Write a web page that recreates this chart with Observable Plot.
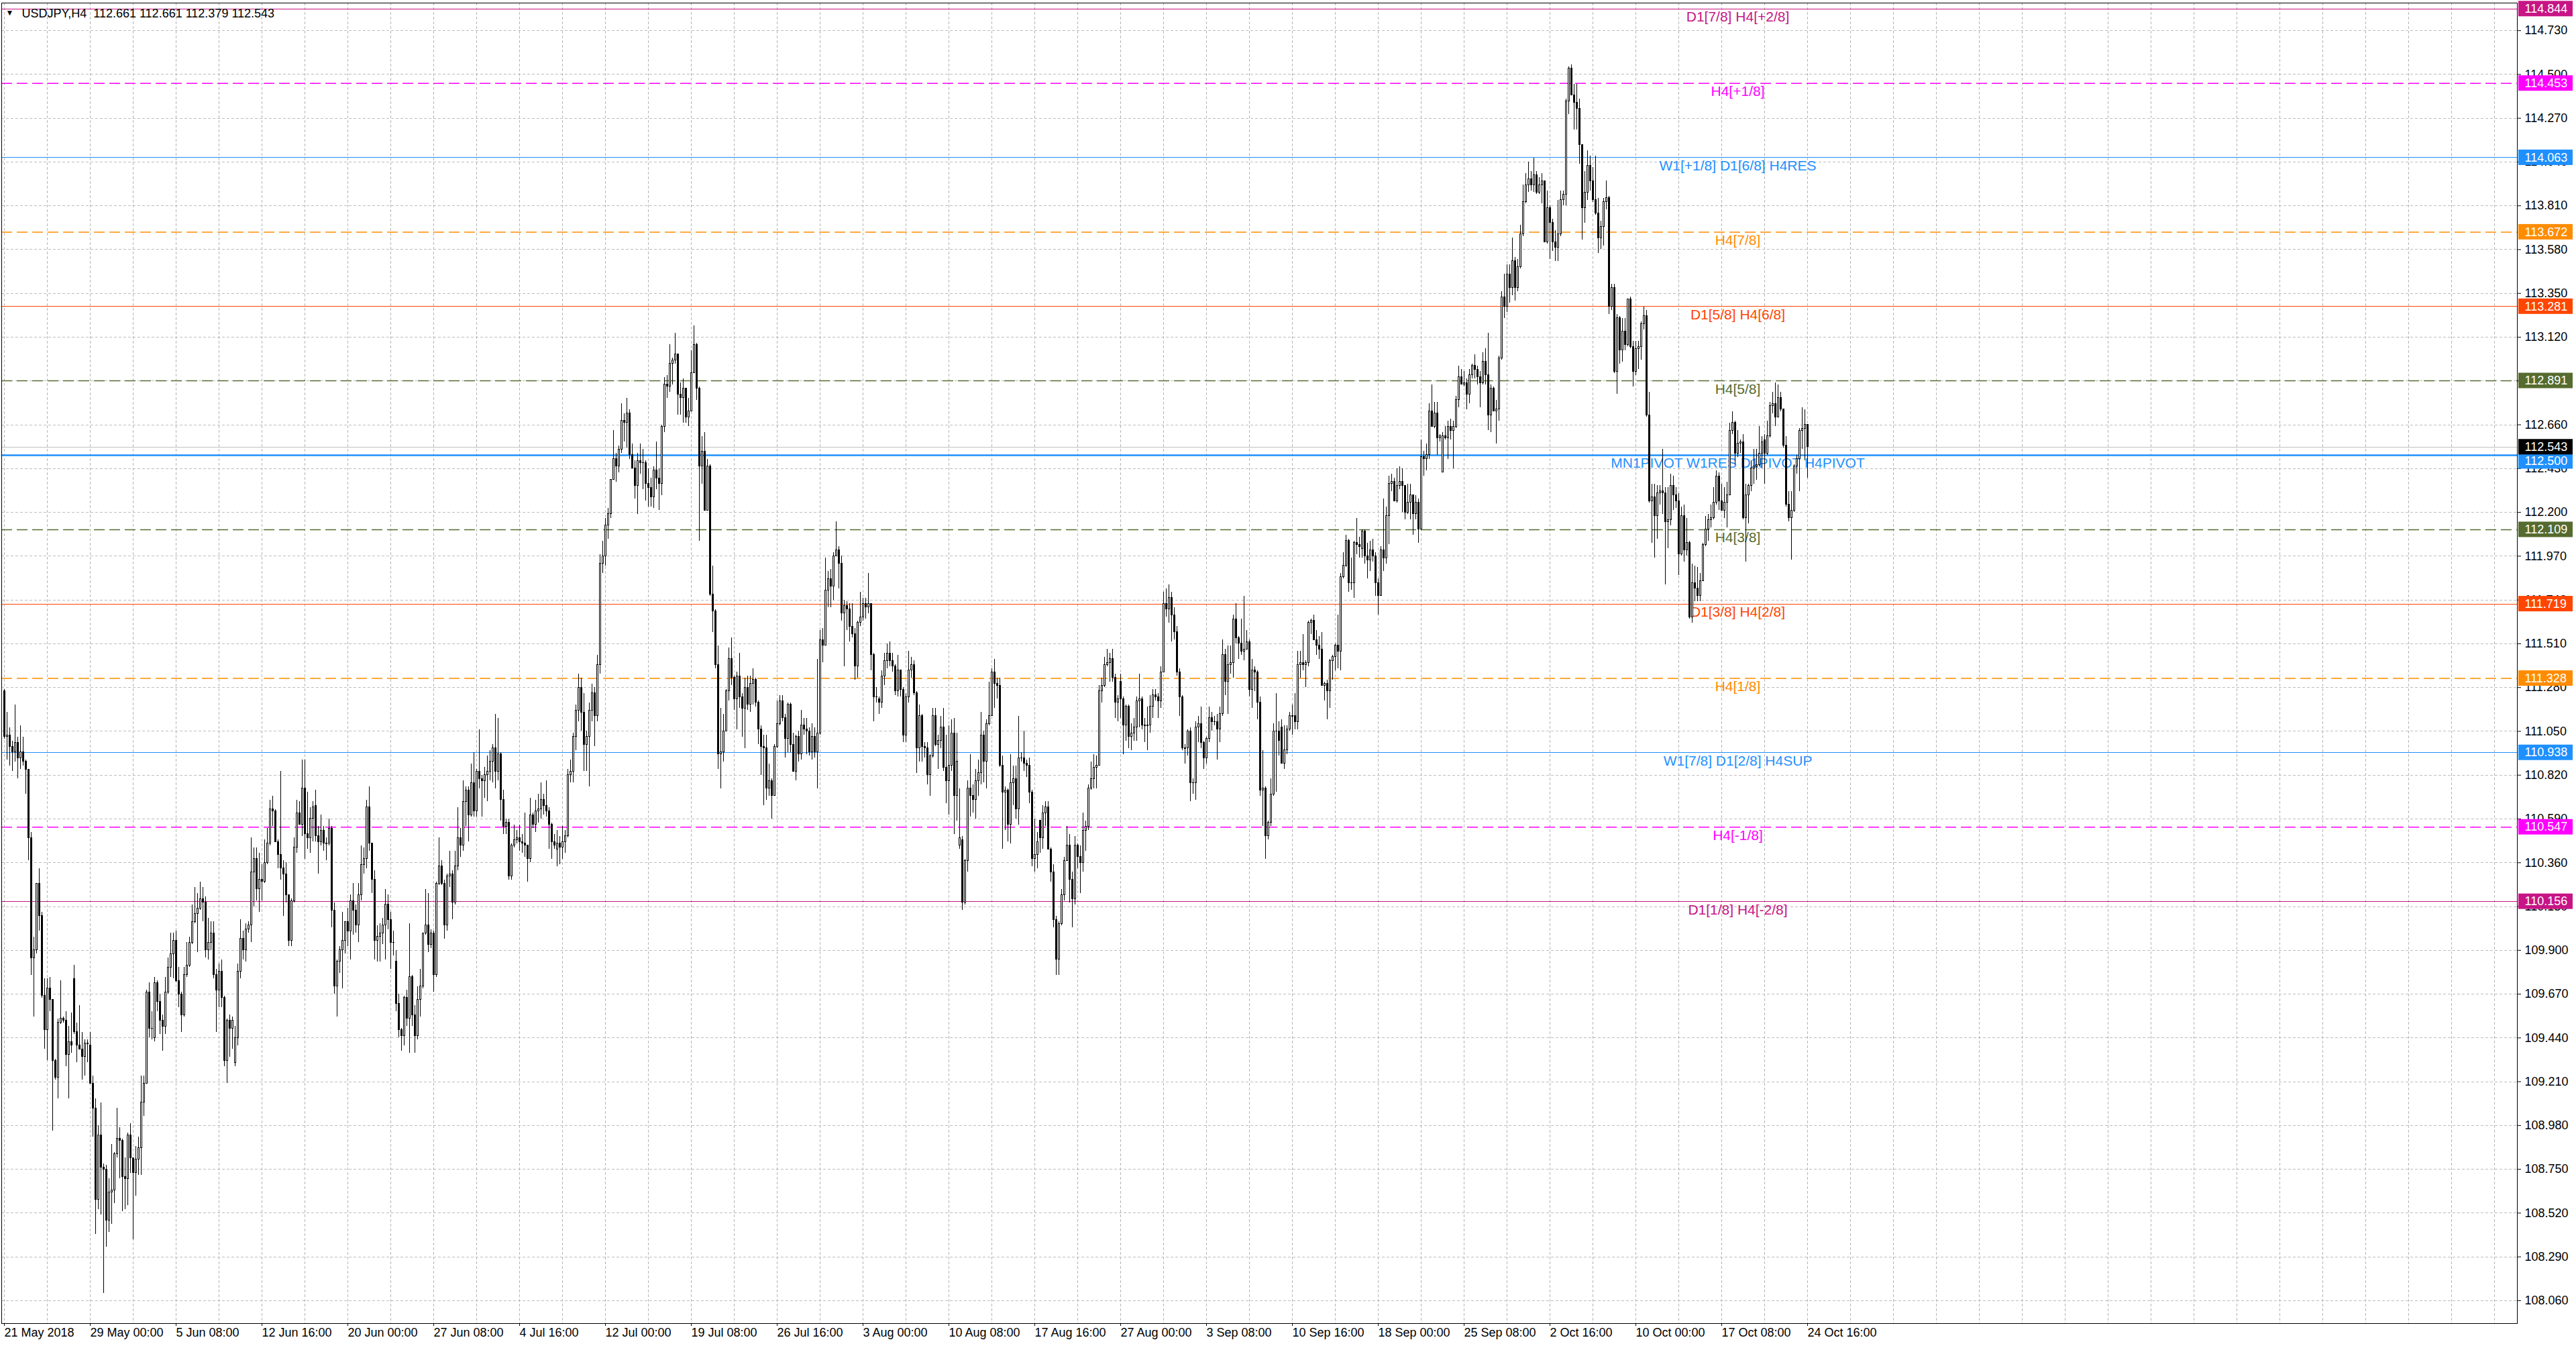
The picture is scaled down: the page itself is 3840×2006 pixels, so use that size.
<!DOCTYPE html>
<html><head><meta charset="utf-8">
<script src="https://cdn.jsdelivr.net/npm/d3@7"></script>
<script src="https://cdn.jsdelivr.net/npm/@observablehq/plot@0.6"></script>
<style>html,body{margin:0;padding:0;background:#fff;}#chart{width:3840px;height:2006px;overflow:hidden;background:#fff}</style>
</head><body><div id="chart"></div>
<script>
const header = "USDJPY,H4  112.661 112.661 112.379 112.543";
const open = [
111.26,111.02,111.03,110.97,110.94,110.99,110.91,110.94,110.89,110.85,
110.49,109.86,109.90,110.25,110.08,109.66,109.48,109.70,109.64,109.32,
109.23,109.52,109.54,109.53,109.35,109.42,109.75,109.47,109.40,109.38,
109.34,109.41,109.40,109.20,109.07,108.59,108.93,108.76,108.75,108.48,
108.63,108.64,108.83,108.91,108.90,108.71,108.70,108.93,108.81,108.73,
108.80,108.86,109.10,109.20,109.68,109.49,109.44,109.73,109.63,109.53,
109.50,109.68,109.81,109.88,109.95,109.74,109.67,109.56,109.77,109.82,
109.94,110.05,110.09,110.12,110.17,110.15,109.90,109.94,109.99,109.77,
109.69,109.79,109.65,109.32,109.53,109.49,109.31,109.44,109.79,109.96,
109.90,110.01,110.03,110.31,110.38,110.22,110.27,110.26,110.36,110.46,
110.64,110.63,110.47,110.40,110.33,110.30,110.19,109.95,110.16,110.44,
110.62,110.56,110.75,110.51,110.49,110.59,110.66,110.50,110.47,110.53,
110.46,110.46,110.54,110.11,109.71,109.84,109.90,109.95,110.05,110.00,
110.16,110.11,110.03,110.19,110.35,110.38,110.65,110.46,110.27,109.95,
109.97,109.99,110.03,110.14,110.06,109.94,109.84,109.62,109.48,109.45,
109.65,109.54,109.76,109.56,109.45,109.64,109.71,109.99,110.03,109.93,
109.99,109.77,110.25,110.34,110.25,110.03,110.29,110.30,110.15,110.34,
110.49,110.45,110.68,110.74,110.61,110.78,110.63,110.84,110.80,110.79,
110.82,110.84,110.89,110.96,110.84,110.93,110.69,110.55,110.57,110.29,
110.45,110.48,110.49,110.47,110.46,110.45,110.38,110.61,110.56,110.63,
110.64,110.69,110.66,110.63,110.56,110.47,110.43,110.46,110.44,110.47,
110.50,110.82,110.84,111.02,111.16,111.28,111.15,110.98,111.02,111.16,
111.25,111.13,111.40,111.93,111.97,112.13,112.19,112.37,112.48,112.44,
112.53,112.68,112.67,112.72,112.50,112.43,112.34,112.47,112.46,112.46,
112.35,112.33,112.28,112.42,112.38,112.35,112.65,112.87,112.86,112.98,
113.00,113.03,112.82,112.80,112.85,112.70,112.73,112.93,113.08,112.85,
112.44,112.52,112.21,112.44,111.77,111.68,111.40,110.93,110.94,111.05,
111.26,111.43,111.33,111.22,111.34,111.23,111.17,111.28,111.19,111.30,
111.32,111.20,111.06,110.97,110.96,110.75,110.79,110.71,110.97,111.09,
111.21,111.12,111.01,111.19,110.98,110.84,111.02,110.93,111.08,111.06,
111.05,110.94,111.02,110.94,111.04,111.53,111.50,111.79,111.85,111.81,
111.97,112.00,111.93,111.67,111.71,111.69,111.60,111.56,111.39,111.62,
111.65,111.72,111.70,111.72,111.45,111.23,111.22,111.20,111.34,111.42,
111.46,111.42,111.39,111.26,111.37,111.27,111.03,111.23,111.37,111.40,
111.25,110.96,111.13,110.97,110.96,110.82,110.92,111.13,110.98,111.00,
111.07,110.86,110.79,110.87,111.04,110.71,110.45,110.48,110.15,110.37,
110.75,110.71,110.69,110.79,110.83,111.03,110.89,111.09,111.13,111.36,
111.30,111.29,110.87,110.73,110.74,110.56,110.78,110.80,110.64,110.91,
110.91,110.88,110.87,110.73,110.38,110.40,110.58,110.49,110.62,110.65,
110.43,110.31,110.06,109.85,110.04,110.19,110.37,110.45,110.27,110.17,
110.45,110.39,110.36,110.53,110.55,110.75,110.80,110.86,110.87,111.26,
111.29,111.40,111.41,111.43,111.33,111.20,111.31,111.22,111.08,111.18,
111.02,111.04,111.07,111.21,111.22,111.08,111.08,111.08,111.18,111.24,
111.23,111.21,111.36,111.72,111.69,111.75,111.66,111.57,111.36,111.23,
110.96,110.96,111.05,110.78,110.78,111.07,111.09,110.99,110.91,111.01,
111.12,111.10,111.10,111.06,111.14,111.45,111.31,111.40,111.41,111.64,
111.54,111.51,111.47,111.48,111.52,111.27,111.37,111.36,111.20,110.74,
110.75,110.50,110.57,110.72,111.05,111.05,111.07,110.88,110.95,111.06,
111.13,111.13,111.10,111.40,111.41,111.40,111.41,111.62,111.63,111.53,
111.50,111.48,111.29,111.30,111.26,111.42,111.44,111.50,111.47,111.86,
111.92,112.05,111.83,111.83,112.04,112.03,112.01,112.10,111.97,111.95,
112.00,111.97,111.83,111.76,112.00,111.96,112.18,112.35,112.36,112.26,
112.34,112.36,112.34,112.20,112.25,112.29,112.19,112.25,112.11,112.49,
112.48,112.50,112.73,112.65,112.72,112.59,112.41,112.60,112.59,112.65,
112.63,112.65,112.79,112.91,112.87,112.88,112.82,112.92,112.97,112.95,
112.91,112.88,112.99,112.92,112.71,112.85,112.73,112.74,113.01,113.33,
113.28,113.45,113.38,113.52,113.38,113.49,113.66,113.83,113.92,113.95,
113.92,113.97,113.88,113.92,113.94,113.62,113.80,113.72,113.62,113.59,
113.66,113.84,113.87,114.36,114.53,114.39,114.35,114.32,114.13,113.80,
113.88,114.02,113.94,113.84,113.77,113.64,113.70,113.83,113.85,113.28,
113.38,112.94,113.22,113.05,113.15,113.08,113.32,113.07,112.94,113.06,
113.07,113.19,113.23,112.71,112.26,112.28,112.18,112.30,112.31,112.30,
112.15,112.16,112.34,112.29,112.26,111.98,112.18,112.00,112.04,111.65,
111.83,111.80,111.76,111.84,112.03,112.11,112.16,112.17,112.25,112.39,
112.26,112.21,112.25,112.29,112.63,112.67,112.51,112.56,112.57,112.17,
112.29,112.34,112.43,112.44,112.45,112.51,112.58,112.51,112.60,112.76,
112.77,112.70,112.80,112.74,112.55,112.24,112.17,112.21,112.44,112.48,
112.63,112.64,112.661];
const high = [
111.27,111.15,111.07,111.00,111.19,111.02,111.08,111.02,110.90,110.85,
110.52,109.97,110.25,110.33,110.10,109.75,109.75,109.76,109.64,109.33,
109.54,109.74,109.55,109.58,109.50,109.57,109.82,109.52,109.61,109.47,
109.43,109.43,109.47,109.24,109.12,108.98,109.10,108.78,108.77,108.70,
108.88,108.84,109.07,108.97,108.91,108.81,108.94,108.99,108.81,108.87,
108.92,109.24,109.24,109.69,109.73,109.58,109.76,109.74,109.67,109.56,
109.76,109.86,109.99,109.99,110.00,109.81,109.68,109.81,109.94,109.97,
110.14,110.23,110.20,110.26,110.23,110.18,110.07,110.05,110.05,109.80,
109.83,109.85,109.66,109.54,109.56,109.55,109.50,109.83,110.06,110.00,
110.04,110.05,110.49,110.44,110.44,110.41,110.35,110.48,110.54,110.69,
110.71,110.64,110.48,110.84,110.37,110.36,110.19,110.17,110.49,110.69,
110.68,110.90,110.90,110.73,110.65,110.68,110.74,110.55,110.61,110.55,
110.49,110.59,110.55,110.15,109.85,109.92,110.10,110.05,110.12,110.19,
110.25,110.14,110.25,110.45,110.44,110.69,110.76,110.46,110.32,110.03,
110.04,110.07,110.22,110.19,110.10,110.00,109.90,109.67,109.49,109.66,
109.69,110.04,109.77,109.61,109.71,109.80,109.99,110.22,110.20,110.01,
110.00,110.26,110.49,110.37,110.27,110.30,110.42,110.32,110.42,110.65,
110.54,110.79,110.76,110.76,110.88,110.94,110.85,111.06,110.82,110.86,
110.92,110.95,110.98,111.14,111.12,110.94,110.74,110.59,110.59,110.46,
110.56,110.53,110.56,110.51,110.62,110.45,110.70,110.62,110.69,110.72,
110.78,110.72,110.79,110.65,110.57,110.51,110.53,110.50,110.55,110.53,
110.85,110.90,111.04,111.19,111.35,111.33,111.25,111.05,111.20,111.30,
111.28,111.45,111.98,112.05,112.17,112.22,112.37,112.63,112.51,112.55,
112.77,112.72,112.80,112.74,112.56,112.47,112.51,112.56,112.53,112.47,
112.43,112.38,112.44,112.57,112.43,112.66,112.91,112.92,113.08,113.01,
113.14,113.03,112.88,112.90,112.85,112.80,113.05,113.18,113.09,112.86,
112.60,112.62,112.48,112.45,111.92,111.69,111.50,111.17,111.14,111.27,
111.49,111.54,111.34,111.36,111.46,111.25,111.33,111.34,111.34,111.38,
111.33,111.21,111.08,111.03,111.03,110.88,110.80,110.98,111.21,111.24,
111.24,111.14,111.20,111.20,111.04,111.03,111.05,111.16,111.12,111.12,
111.07,111.09,111.07,111.43,111.58,111.59,111.96,111.89,111.90,111.99,
112.15,112.02,111.97,111.74,111.73,111.72,111.72,111.59,111.63,111.78,
111.75,111.75,111.88,111.72,111.46,111.28,111.23,111.37,111.46,111.51,
111.52,111.46,111.40,111.45,111.37,111.28,111.25,111.47,111.44,111.42,
111.26,111.19,111.14,110.99,110.99,110.93,111.17,111.17,111.03,111.13,
111.17,111.03,111.08,111.11,111.12,111.04,110.75,110.50,110.38,110.79,
110.93,110.77,110.85,110.90,111.15,111.05,111.11,111.31,111.38,111.43,
111.33,111.33,110.92,110.76,110.75,110.93,110.87,110.87,111.13,110.94,
111.05,110.90,110.91,110.74,110.59,110.52,110.58,110.66,110.68,110.68,
110.44,110.35,110.08,110.05,110.22,110.39,110.55,110.51,110.31,110.50,
110.46,110.45,110.62,110.58,110.77,110.89,110.93,110.92,111.29,111.33,
111.44,111.48,111.46,111.48,111.35,111.24,111.35,111.23,111.19,111.19,
111.09,111.12,111.23,111.35,111.23,111.12,111.18,111.24,111.27,111.27,
111.25,111.39,111.78,111.80,111.82,111.78,111.70,111.60,111.38,111.24,
110.98,111.06,111.07,110.80,111.10,111.13,111.18,111.00,111.02,111.18,
111.15,111.13,111.14,111.18,111.53,111.48,111.50,111.50,111.66,111.72,
111.55,111.64,111.76,111.58,111.53,111.43,111.39,111.37,111.23,110.95,
110.76,110.58,110.80,111.09,111.25,111.10,111.11,111.08,111.08,111.15,
111.19,111.25,111.47,111.47,111.56,111.42,111.63,111.64,111.66,111.58,
111.55,111.57,111.31,111.32,111.43,111.45,111.51,111.66,111.88,111.99,
112.08,112.06,111.96,112.05,112.17,112.07,112.11,112.11,112.04,112.05,
112.06,111.99,111.85,112.02,112.27,112.23,112.39,112.40,112.38,112.43,
112.44,112.43,112.34,112.35,112.35,112.29,112.29,112.27,112.58,112.52,
112.56,112.77,112.87,112.78,112.78,112.61,112.62,112.65,112.68,112.69,
112.68,112.81,112.97,112.95,112.94,112.90,112.95,112.98,113.03,112.97,
112.94,113.04,113.06,113.14,112.87,112.86,112.79,113.02,113.36,113.45,
113.50,113.50,113.64,113.54,113.53,113.71,113.92,113.98,114.04,113.99,
114.06,113.99,113.96,113.98,113.94,113.89,113.81,113.74,113.68,113.84,
113.89,113.89,114.37,114.54,114.55,114.45,114.45,114.37,114.13,113.99,
114.10,114.07,114.01,114.07,113.85,113.73,113.85,113.94,113.86,113.40,
113.40,113.24,113.23,113.22,113.22,113.32,113.33,113.10,113.10,113.10,
113.20,113.28,113.26,112.83,112.35,112.35,112.34,112.34,112.53,112.33,
112.33,112.40,112.39,112.33,112.30,112.23,112.24,112.17,112.05,111.93,
111.92,111.91,111.88,112.04,112.18,112.19,112.24,112.33,112.42,112.41,
112.35,112.33,112.36,112.67,112.73,112.68,112.63,112.58,112.61,112.35,
112.35,112.47,112.53,112.53,112.65,112.60,112.61,112.68,112.78,112.83,
112.88,112.87,112.83,112.74,112.60,112.31,112.31,112.45,112.50,112.64,
112.75,112.74,112.661];
const low = [
111.01,110.90,110.87,110.84,110.89,110.80,110.85,110.87,110.72,110.37,
109.77,109.55,109.88,110.00,109.65,109.38,109.32,109.58,108.95,109.22,
109.12,109.51,109.52,109.29,109.12,109.36,109.46,109.31,109.38,109.22,
109.24,109.31,109.20,108.92,108.41,108.54,108.51,108.10,108.34,108.42,
108.46,108.57,108.81,108.70,108.53,108.54,108.56,108.73,108.38,108.61,
108.72,108.72,109.03,109.20,109.44,109.43,109.42,109.58,109.46,109.37,
109.46,109.67,109.76,109.75,109.73,109.60,109.47,109.55,109.76,109.81,
109.93,110.04,109.89,110.11,110.05,109.86,109.85,109.90,109.75,109.47,
109.60,109.60,109.29,109.20,109.34,109.38,109.29,109.40,109.75,109.85,
109.84,109.99,109.94,110.13,110.16,110.10,110.16,110.25,110.35,110.45,
110.55,110.47,110.33,110.27,110.08,110.15,109.92,109.92,110.15,110.41,
110.56,110.50,110.38,110.43,110.41,110.47,110.47,110.30,110.45,110.42,
110.37,110.45,110.02,109.67,109.55,109.78,109.70,109.88,109.92,109.85,
109.98,109.99,109.94,110.16,110.30,110.33,110.42,110.20,109.85,109.84,
109.84,109.93,109.85,110.01,109.80,109.87,109.58,109.44,109.37,109.40,
109.50,109.36,109.50,109.36,109.43,109.55,109.70,109.98,109.89,109.91,
109.68,109.76,110.24,110.24,109.96,110.00,110.23,110.06,110.14,110.32,
110.39,110.42,110.55,110.47,110.60,110.60,110.60,110.75,110.60,110.70,
110.68,110.79,110.78,110.75,110.79,110.58,110.51,110.51,110.27,110.27,
110.44,110.46,110.42,110.41,110.39,110.26,110.36,110.54,110.52,110.57,
110.59,110.61,110.60,110.43,110.38,110.43,110.34,110.35,110.38,110.41,
110.49,110.78,110.78,110.95,111.10,111.05,110.84,110.84,110.76,111.10,
110.97,111.10,111.35,111.88,111.92,112.06,112.17,112.37,112.36,112.41,
112.51,112.57,112.54,112.48,112.43,112.27,112.19,112.40,112.32,112.26,
112.23,112.23,112.22,112.32,112.21,112.29,112.62,112.80,112.83,112.87,
112.98,112.71,112.71,112.67,112.67,112.65,112.73,112.93,112.79,112.05,
112.35,112.21,112.21,111.76,111.57,111.38,110.85,110.75,110.89,111.05,
111.21,111.29,111.16,111.06,111.17,111.02,110.96,111.16,111.15,111.19,
111.18,110.98,110.82,110.66,110.69,110.71,110.59,110.71,110.96,111.08,
111.10,110.91,110.94,110.94,110.84,110.79,110.89,110.90,111.03,110.93,
110.92,110.90,110.91,110.75,111.03,111.41,111.50,111.70,111.70,111.74,
111.97,111.80,111.63,111.39,111.58,111.52,111.54,111.32,111.33,111.60,
111.63,111.64,111.67,111.37,111.10,111.20,111.14,111.17,111.29,111.38,
111.39,111.36,111.24,111.23,111.23,110.99,110.99,111.20,111.33,111.24,
110.83,110.89,110.89,110.91,110.77,110.71,110.91,110.97,110.85,110.96,
110.84,110.67,110.61,110.84,110.51,110.58,110.43,110.11,110.14,110.31,
110.60,110.62,110.59,110.71,110.77,110.78,110.75,111.08,111.13,111.17,
111.22,110.86,110.43,110.53,110.47,110.46,110.66,110.59,110.56,110.89,
110.84,110.81,110.67,110.34,110.31,110.33,110.41,110.43,110.55,110.43,
110.26,110.02,109.77,109.77,110.03,110.16,110.37,110.15,110.02,110.14,
110.33,110.20,110.31,110.42,110.53,110.74,110.75,110.75,110.87,111.20,
111.28,111.39,111.31,111.31,111.12,111.10,111.12,110.93,111.00,110.96,
110.95,111.00,111.00,111.07,111.06,110.99,110.95,111.04,111.12,111.21,
111.12,111.17,111.36,111.65,111.62,111.52,111.53,111.34,111.13,110.95,
110.88,110.92,110.68,110.72,110.69,110.99,110.96,110.85,110.88,110.99,
111.05,111.08,110.90,110.99,111.13,111.24,111.14,111.35,111.33,111.51,
111.43,111.45,111.42,111.48,111.23,111.17,111.26,111.11,110.71,110.55,
110.38,110.48,110.55,110.71,110.73,110.92,110.88,110.85,110.93,111.05,
111.03,111.06,111.06,111.33,111.37,111.28,111.39,111.56,111.53,111.45,
111.43,111.29,111.21,111.11,111.17,111.32,111.37,111.38,111.37,111.85,
111.91,111.78,111.79,111.75,111.98,111.96,111.96,111.93,111.85,111.89,
111.94,111.76,111.66,111.76,111.89,111.93,112.03,112.31,112.26,112.25,
112.32,112.20,112.16,112.19,112.16,112.08,112.16,112.04,112.11,112.39,
112.42,112.48,112.65,112.64,112.50,112.57,112.41,112.58,112.48,112.58,
112.43,112.64,112.75,112.87,112.86,112.74,112.77,112.90,112.90,112.87,
112.75,112.87,112.87,112.63,112.62,112.73,112.56,112.68,113.00,113.22,
113.25,113.30,113.34,113.31,113.36,113.48,113.65,113.82,113.88,113.89,
113.88,113.87,113.87,113.82,113.62,113.61,113.53,113.57,113.52,113.52,
113.65,113.81,113.81,114.29,114.39,114.21,114.21,114.03,113.63,113.72,
113.84,113.89,113.83,113.76,113.56,113.58,113.60,113.79,113.24,113.26,
112.93,112.82,112.98,112.99,113.05,113.07,113.06,112.86,112.92,112.95,
113.00,113.16,112.70,112.25,112.04,111.96,112.06,112.24,112.19,111.82,
112.01,112.13,112.21,112.22,111.87,111.97,111.94,111.97,111.64,111.62,
111.73,111.73,111.73,111.84,112.02,112.05,112.12,112.16,112.24,112.21,
112.21,112.17,112.12,112.29,112.61,112.45,112.49,112.51,112.16,111.94,
112.14,112.31,112.35,112.37,112.44,112.43,112.35,112.50,112.59,112.72,
112.65,112.70,112.73,112.54,112.23,112.15,111.95,112.20,112.40,112.31,
112.53,112.47,112.379];
const close = [
111.02,111.03,110.97,110.94,110.99,110.91,110.94,110.89,110.85,110.49,
109.86,109.90,110.25,110.08,109.66,109.48,109.70,109.64,109.32,109.23,
109.52,109.54,109.53,109.35,109.42,109.40,109.47,109.40,109.38,109.34,
109.41,109.41,109.20,109.07,108.59,108.93,108.76,108.75,108.48,108.63,
108.64,108.83,108.91,108.90,108.71,108.70,108.93,108.81,108.73,108.80,
108.86,109.10,109.20,109.68,109.49,109.49,109.73,109.63,109.53,109.50,
109.68,109.81,109.88,109.95,109.74,109.67,109.56,109.77,109.82,109.94,
110.05,110.09,110.12,110.17,110.15,109.90,109.94,109.99,109.77,109.69,
109.79,109.65,109.32,109.53,109.49,109.53,109.44,109.79,109.96,109.90,
110.01,110.03,110.31,110.38,110.22,110.27,110.26,110.36,110.46,110.64,
110.63,110.47,110.40,110.33,110.30,110.19,109.95,110.16,110.44,110.62,
110.56,110.75,110.51,110.49,110.59,110.65,110.50,110.47,110.53,110.46,
110.46,110.54,110.11,109.71,109.84,109.90,109.95,110.05,110.00,110.16,
110.11,110.03,110.19,110.35,110.38,110.65,110.46,110.27,109.95,109.97,
109.99,110.03,110.14,110.06,109.94,109.94,109.62,109.48,109.45,109.65,
109.54,109.76,109.56,109.45,109.64,109.71,109.99,110.03,109.93,109.99,
109.77,110.25,110.34,110.25,110.03,110.29,110.30,110.15,110.34,110.49,
110.45,110.68,110.74,110.61,110.78,110.63,110.84,110.80,110.79,110.82,
110.84,110.89,110.96,110.84,110.93,110.69,110.55,110.57,110.29,110.45,
110.48,110.49,110.47,110.46,110.45,110.38,110.61,110.56,110.63,110.64,
110.69,110.66,110.63,110.56,110.47,110.45,110.46,110.44,110.47,110.50,
110.82,110.84,111.02,111.16,111.28,111.15,110.98,111.02,111.16,111.25,
111.13,111.40,111.93,111.97,112.13,112.19,112.37,112.48,112.44,112.53,
112.68,112.67,112.72,112.50,112.43,112.34,112.47,112.46,112.46,112.35,
112.33,112.28,112.42,112.38,112.35,112.65,112.87,112.86,112.98,113.00,
113.03,112.82,112.80,112.85,112.70,112.73,112.93,113.08,112.85,112.44,
112.52,112.21,112.44,111.77,111.68,111.40,110.93,110.94,111.05,111.26,
111.43,111.33,111.22,111.34,111.23,111.17,111.28,111.19,111.30,111.32,
111.20,111.06,110.97,110.96,110.75,110.79,110.71,110.97,111.09,111.21,
111.12,111.01,111.19,110.98,110.84,111.02,110.93,111.08,111.06,111.05,
110.94,111.02,110.94,111.04,111.53,111.50,111.79,111.85,111.81,111.97,
112.00,111.93,111.67,111.71,111.69,111.60,111.56,111.39,111.62,111.65,
111.72,111.70,111.72,111.45,111.23,111.23,111.20,111.34,111.42,111.46,
111.42,111.39,111.26,111.37,111.27,111.03,111.23,111.37,111.40,111.25,
110.96,111.13,110.97,110.96,110.82,110.92,111.13,110.98,111.00,111.07,
110.86,110.79,110.87,111.04,110.71,110.89,110.49,110.15,110.37,110.75,
110.71,110.69,110.79,110.83,111.03,110.89,111.09,111.13,111.36,111.30,
111.29,110.87,110.73,110.74,110.56,110.78,110.80,110.64,110.91,110.91,
110.88,110.87,110.73,110.38,110.40,110.47,110.49,110.62,110.65,110.43,
110.31,110.06,109.85,110.04,110.19,110.37,110.45,110.27,110.17,110.45,
110.39,110.36,110.53,110.55,110.75,110.80,110.86,110.87,111.26,111.29,
111.40,111.41,111.43,111.33,111.20,111.22,111.22,111.08,111.18,111.02,
111.04,111.07,111.21,111.22,111.08,111.08,111.08,111.18,111.24,111.23,
111.21,111.36,111.72,111.69,111.75,111.66,111.57,111.36,111.23,110.96,
110.96,111.05,110.78,110.78,111.07,111.09,110.99,110.91,111.01,111.12,
111.10,111.10,111.06,111.14,111.45,111.31,111.40,111.41,111.64,111.54,
111.51,111.47,111.48,111.52,111.27,111.37,111.36,111.20,110.74,110.75,
110.50,110.57,110.72,111.05,111.05,111.00,110.88,110.95,111.06,111.13,
111.13,111.10,111.40,111.41,111.40,111.41,111.62,111.63,111.53,111.50,
111.48,111.29,111.30,111.26,111.42,111.44,111.50,111.47,111.86,111.92,
112.05,111.83,111.83,112.04,112.03,112.02,112.10,111.97,111.95,112.00,
111.97,111.83,111.76,112.00,111.96,112.18,112.35,112.36,112.26,112.34,
112.36,112.34,112.20,112.25,112.29,112.19,112.25,112.11,112.49,112.48,
112.50,112.73,112.65,112.72,112.59,112.60,112.60,112.59,112.65,112.63,
112.65,112.79,112.91,112.87,112.88,112.82,112.92,112.97,112.95,112.91,
112.88,112.99,112.92,112.71,112.85,112.73,112.74,113.01,113.33,113.28,
113.45,113.38,113.52,113.38,113.49,113.66,113.83,113.92,113.95,113.92,
113.97,113.88,113.92,113.94,113.62,113.80,113.72,113.62,113.59,113.66,
113.84,113.87,114.36,114.53,114.39,114.35,114.32,114.13,113.80,113.88,
114.02,113.94,113.84,113.77,113.64,113.70,113.83,113.85,113.28,113.38,
112.94,113.22,113.05,113.15,113.08,113.32,113.07,112.94,113.06,113.07,
113.19,113.23,112.71,112.26,112.28,112.18,112.30,112.31,112.30,112.15,
112.16,112.34,112.29,112.26,111.98,112.18,112.00,112.04,111.65,111.83,
111.80,111.76,111.84,112.03,112.11,112.16,112.17,112.25,112.39,112.26,
112.21,112.25,112.29,112.63,112.67,112.51,112.56,112.57,112.17,112.29,
112.34,112.43,112.44,112.45,112.51,112.57,112.51,112.60,112.76,112.77,
112.70,112.80,112.74,112.55,112.24,112.17,112.21,112.44,112.48,112.63,
112.64,112.66,112.543];

const dateLabels = ["21 May 2018","29 May 00:00","5 Jun 08:00","12 Jun 16:00","20 Jun 00:00","27 Jun 08:00","4 Jul 16:00","12 Jul 00:00","19 Jul 08:00","26 Jul 16:00","3 Aug 00:00","10 Aug 08:00","17 Aug 16:00","27 Aug 00:00","3 Sep 08:00","10 Sep 16:00","18 Sep 00:00","25 Sep 08:00","2 Oct 16:00","10 Oct 00:00","17 Oct 08:00","24 Oct 16:00"];
const barsPerLabel = 32;
const barsPerGrid = 16;
const yTicks = [108.060,108.290,108.520,108.750,108.980,109.210,109.440,109.670,109.900,110.130,110.360,110.590,110.820,111.050,111.280,111.510,111.740,111.970,112.200,112.430,112.660,112.890,113.120,113.350,113.580,113.810,114.040,114.270,114.500,114.730];

const levelPrices = [114.844,114.453,114.063,113.672,113.281,112.891,112.500,112.109,111.719,111.328,110.938,110.547,110.156];
const levelNames = ["D1[7/8] H4[+2/8]","H4[+1/8]","W1[+1/8] D1[6/8] H4RES","H4[7/8]","D1[5/8] H4[6/8]","H4[5/8]","MN1PIVOT W1RES D1PIVOT H4PIVOT","H4[3/8]","D1[3/8] H4[2/8]","H4[1/8]","W1[7/8] D1[2/8] H4SUP","H4[-1/8]","D1[1/8] H4[-2/8]"];
const levelColors = ["#C71585","#FF00FF","#1E90FF","#FF8C00","#FF4500","#556B2F","#1E90FF","#556B2F","#FF4500","#FF8C00","#1E90FF","#FF00FF","#C71585"];
const levelStyles = ["solid","dash","solid","dash","solid","dash","pivot","dash","solid","dash","solid","dash","solid"];
const lastPrice = 112.543;

// ---- layout ----
const W = 3840, H = 2006;
const mL = 2, mR = 88, mT = 4, mB = 34;
const pxPerBar = 4;
const xDomain = [-1, (W - mL - mR) / pxPerBar - 1];
const pxToX = p => (p - mL) / pxPerBar - 1;
const yDomain = [107.940, 114.875];
const pxPerUnit = (H - mT - mB) / (yDomain[1] - yDomain[0]);
const font = "'Liberation Sans', Arial, sans-serif";
const crisp = "crispEdges";

const bars = open.map((o, i) => ({i, o, h: high[i], l: low[i], c: close[i]}));
const labelIdx = dateLabels.map((_, k) => k * barsPerLabel);
const gridIdx = d3.range(0, xDomain[1], barsPerGrid);
const levels = levelPrices.map((p, k) => ({p, name: levelNames[k], color: levelColors[k], style: levelStyles[k]}));
const boxes = levels.map(l => ({p: l.p, label: l.p.toFixed(3), color: l.color, off: l.style === "pivot" ? 9 : 0}))
  .concat([{p: lastPrice, label: lastPrice.toFixed(3), color: "#000000", off: 0}]);
const boxHalf = 11.5;
const labelX = pxToX(2590);

const chart = Plot.plot({
  width: W, height: H,
  marginLeft: mL, marginRight: mR, marginTop: mT, marginBottom: mB,
  x: {type: "linear", domain: xDomain},
  y: {type: "linear", domain: yDomain},
  color: {type: "identity"},
  style: {fontFamily: font, fontSize: "18px", background: "white", color: "black", overflow: "visible"},
  marks: [
    Plot.ruleY(yTicks, {stroke: "#bdbdbd", strokeWidth: 1, strokeDasharray: "4,3", shapeRendering: crisp}),
    Plot.ruleX(gridIdx, {stroke: "#b4b4b4", strokeWidth: 1, strokeDasharray: "4,3", shapeRendering: crisp}),
    Plot.ruleY([lastPrice], {stroke: "#c0c0c0", strokeWidth: 1, shapeRendering: crisp}),
    Plot.ruleY(levels.filter(l => l.style === "solid"), {y: "p", stroke: "color", strokeWidth: 1, shapeRendering: crisp}),
    Plot.ruleY(levels.filter(l => l.style === "dash"), {y: "p", stroke: "color", strokeWidth: 1.5, strokeDasharray: "16,7"}),
    Plot.ruleY(levels.filter(l => l.style === "pivot"), {y: "p", stroke: "color", strokeWidth: 2.5}),
    Plot.text(levels, {x: () => labelX, y: "p", text: "name", fill: "color", fontSize: 21, fontFamily: font, textAnchor: "middle", lineAnchor: "bottom", dy: 19}),
    Plot.ruleX(bars, {x: "i", y1: "l", y2: "h", stroke: "black", strokeWidth: 1, shapeRendering: crisp}),
    Plot.rect(bars, {
      x1: d => d.i - 0.25, x2: d => d.i + 0.25,
      y1: "o", y2: d => d.c === d.o ? d.c - 0.0015 : d.c,
      fill: d => d.c >= d.o ? "white" : "black", stroke: "black", strokeWidth: 1, shapeRendering: crisp
    }),
    Plot.frame({stroke: "black", strokeWidth: 1, shapeRendering: crisp}),
    Plot.axisY({anchor: "right", ticks: yTicks, tickFormat: d => d.toFixed(3), tickSize: 5, tickPadding: 6, fontSize: 18, label: null}),
    Plot.axisX({anchor: "bottom", ticks: labelIdx, tickFormat: d => dateLabels[Math.round(d / barsPerLabel)], textAnchor: "start", tickSize: 4, tickPadding: 3, fontSize: 18, label: null}),
    Plot.rect(boxes, {
      x1: () => pxToX(3754), x2: () => pxToX(3835),
      y1: d => d.p - (d.off - boxHalf) / pxPerUnit, y2: d => d.p - (d.off + boxHalf) / pxPerUnit,
      fill: "color"
    }),
    Plot.text(boxes, {x: () => pxToX(3763), y: d => d.p - d.off / pxPerUnit, text: "label", fill: "white", fontSize: 18, textAnchor: "start"}),
    Plot.text([header], {frameAnchor: "top-left", text: d => d, dx: 30, dy: 9, lineAnchor: "top", textAnchor: "start", fontSize: 18, fill: "black"}),
    Plot.text(["\u25BC"], {frameAnchor: "top-left", text: d => d, dx: 6, dy: 10, lineAnchor: "top", textAnchor: "start", fontSize: 12, fill: "black"})
  ]
});
document.getElementById("chart").appendChild(chart);
</script>
</body></html>
